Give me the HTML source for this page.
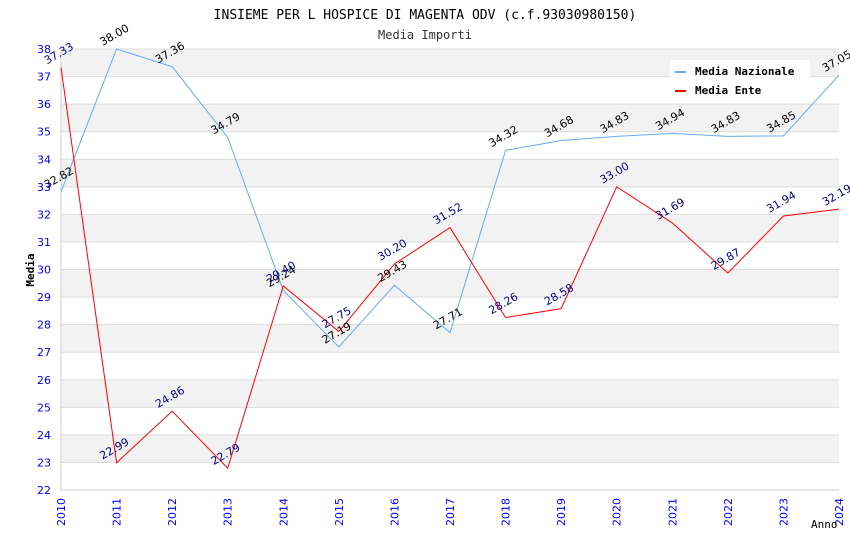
<!DOCTYPE html>
<html><head><meta charset="utf-8"><style>
body{margin:0;background:#fff;}
svg text{font-family:"DejaVu Sans","Liberation Sans",sans-serif;}
svg text.mono{font-family:"DejaVu Sans Mono","Liberation Mono",monospace;}
</style></head><body>
<svg id="chart" width="850" height="550" xmlns="http://www.w3.org/2000/svg">
<text class="mono" x="425" y="19" text-anchor="middle" font-size="13" fill="#000">INSIEME PER L HOSPICE DI MAGENTA ODV (c.f.93030980150)</text>
<text class="mono" x="425" y="39" text-anchor="middle" font-size="12" fill="#333">Media Importi</text>
<g id="bands"></g><g id="grid"></g><g id="axes"></g><g id="series"></g><g id="labels"></g>
<text class="mono" x="34" y="270" font-size="11" font-weight="bold" text-anchor="middle" transform="rotate(-90 34 270)">Media</text>
<text class="mono" x="811" y="528" font-size="11" fill="#000">Anno</text>
<g>
<rect x="670" y="60" width="140" height="40" fill="#fff"/>
<g><rect x="675" y="71" width="11" height="2" fill="#66aaee"/><text class="mono" x="695" y="75" font-size="11" font-weight="bold">Media Nazionale</text></g>
<g><rect x="675" y="90" width="11" height="2" fill="#ff0000"/><text class="mono" x="695" y="94" font-size="11" font-weight="bold">Media Ente</text></g>
</g>
</svg>
<script>
const years=[2010,2011,2012,2013,2014,2015,2016,2017,2018,2019,2020,2021,2022,2023,2024];
const nazionale=[32.82,38.00,37.36,34.79,29.24,27.19,29.43,27.71,34.32,34.68,34.83,34.94,34.83,34.85,37.05];
const ente=[37.33,22.99,24.86,22.79,29.40,27.75,30.20,31.52,28.26,28.58,33.00,31.69,29.87,31.94,32.19];
const yTicks=[22,23,24,25,26,27,28,29,30,31,32,33,34,35,36,37,38];
const X0=61,X1=839,Y0=490,Y1=49,YMIN=22,YMAX=38;
const xs=i=>X0+(X1-X0)*i/(years.length-1);
const ys=v=>Y0-(v-YMIN)/(YMAX-YMIN)*(Y0-Y1);
const NS="http://www.w3.org/2000/svg";
function mk(t,a,p){const e=document.createElementNS(NS,t);for(const k in a)e.setAttribute(k,a[k]);p.appendChild(e);return e;}
const bands=document.getElementById('bands'),grid=document.getElementById('grid'),axes=document.getElementById('axes'),series=document.getElementById('series'),labels=document.getElementById('labels');
for(let v=YMIN;v<YMAX;v++){if(v%2===1){const r=mk('rect',{x:X0,y:ys(v+1),width:X1-X0,height:ys(v)-ys(v+1),fill:'#f2f2f2'},bands);

}}
yTicks.forEach(v=>{const l=mk('line',{x1:X0,x2:X1,y1:ys(v),y2:ys(v),stroke:'#dddddd','stroke-width':1},grid);


const t=mk('text',{x:X0-10,y:ys(v)+4,'text-anchor':'end','font-size':11,fill:'#0000ff'},axes);t.textContent=v;

});
mk('line',{x1:X0,x2:X0,y1:Y1,y2:Y0,stroke:'#ccc'},axes);
mk('line',{x1:X0,x2:X1,y1:Y0,y2:Y0,stroke:'#ccc'},axes);
years.forEach((yr,i)=>{const x=xs(i);const t=mk('text',{x:x+4,y:Y0+8,'text-anchor':'end','font-size':11,fill:'#0000ff',transform:`rotate(-90 ${x+4} ${Y0+8})`},axes);t.textContent=yr;

});
function draw(data,color,lc,name){
const p=mk('polyline',{points:data.map((v,i)=>xs(i)+','+ys(v)).join(' '),fill:'none',stroke:color,'stroke-width':1},series);


data.forEach((v,i)=>{const x=xs(i)-14,y=ys(v)-3;const t=mk('text',{x:x,y:y,'font-size':11,fill:lc,transform:`rotate(-30 ${x} ${y})`},labels);t.textContent=v.toFixed(2);

});}
draw(nazionale,'#66aaee','#000','nazionale');
draw(ente,'#ff0000','#000080','ente');
</script>
</body></html>
